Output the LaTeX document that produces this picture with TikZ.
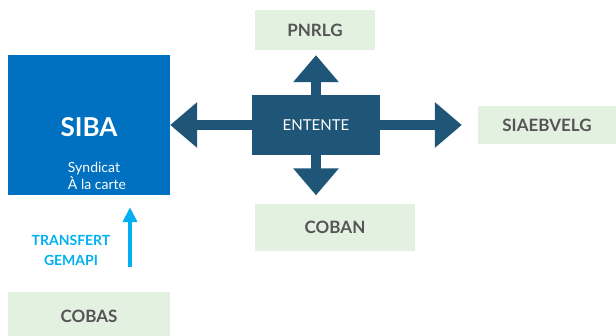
\documentclass[tikz,border=0pt]{standalone}
\usepackage{fontspec}
\setmainfont{Lato}
\usetikzlibrary{arrows.meta}
\definecolor{sibablue}{HTML}{0070C0}
\definecolor{entblue}{HTML}{1F5577}
\definecolor{palegreen}{HTML}{E3F1E1}
\definecolor{textgray}{HTML}{555555}
\definecolor{gemapiblue}{HTML}{00B0F0}
\tikzset{
  partner/.style={fill=palegreen, text=textgray, inner sep=0pt,
    font=\bfseries\fontsize{17}{19}\selectfont},
  fatarrow/.style={draw=entblue, line width=10pt, -{Triangle[width=44pt,length=27pt]}},
}

\begin{document}
\begin{tikzpicture}[x=1pt,y=-1pt]
\useasboundingbox (0,0) rectangle (616,335);
% syndicat
\node [fill=sibablue, minimum width=162pt, minimum height=140pt] (siba) at (89,125) {};
\node [text=white, font=\bfseries\fontsize{26}{28}\selectfont] (sibaname) at (89,127) {SIBA};
\node [text=white, align=left, font=\fontsize{14}{17}\selectfont] (sibasub) at (97,176) {Syndicat\\À la carte};
% entente et partenaires
\node [fill=entblue, text=white, minimum width=128pt, minimum height=60pt,
  font=\fontsize{15}{18}\selectfont] (ent) at (316,125) {ENTENTE};
\node [partner, minimum width=120pt, minimum height=40pt] (pnrlg) at (315,30) {PNRLG};
\node [partner, minimum width=138pt, minimum height=38pt] (siae) at (547,125) {SIAEBVELG};
\node [partner, minimum width=160pt, minimum height=47pt] (coban) at (335,227) {COBAN};
\node [partner, minimum width=162pt, minimum height=48pt] (cobas) at (89,316) {COBAS};
\draw [fatarrow] (ent.west) -- (siba.east);
\draw [fatarrow, shorten >=5pt] (ent.north) -- (ent.north |- pnrlg.south);
\draw [fatarrow, shorten >=16pt] (ent.east) -- (siae.west);
\draw [fatarrow, shorten >=8pt] (ent.south) -- (ent.south |- coban.north);
% transfert
\draw [gemapiblue, line width=4.5pt, -{Triangle[width=14pt,length=15pt]},
  shorten <=25pt, shorten >=12pt] ([xshift=41pt]cobas.north) -- ([xshift=41pt]siba.south);
\node [gemapiblue, align=center, font=\bfseries\fontsize{14}{20}\selectfont] (gemapi) at (71,250) {TRANSFERT\\GEMAPI};
\end{tikzpicture}
\end{document}
